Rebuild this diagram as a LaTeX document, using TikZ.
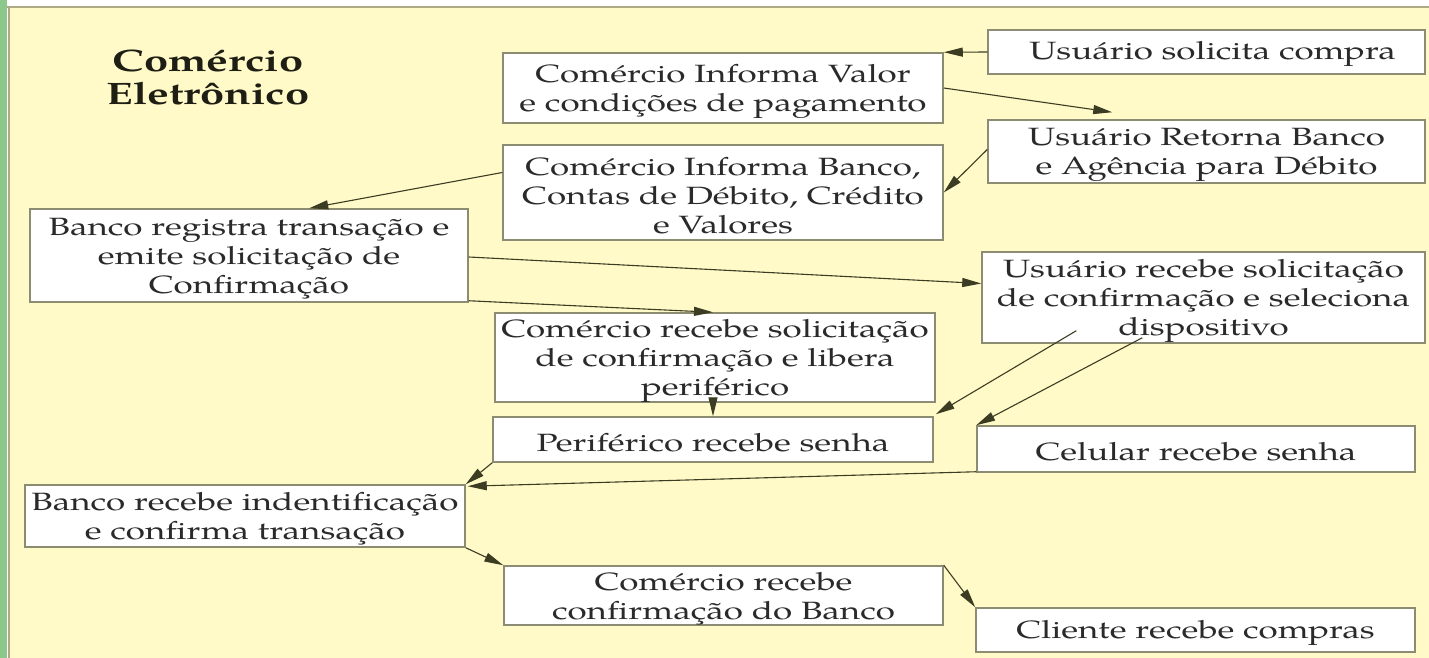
\documentclass[tikz,border=0pt]{standalone}
\usepackage{fontspec}
\setmainfont{texgyrepagella}[Extension=.otf, UprightFont=*-regular, BoldFont=*-bold, ItalicFont=*-italic, BoldItalicFont=*-bolditalic, FakeStretch=1.4]
\usetikzlibrary{arrows.meta,calc}
\definecolor{bgyel}{RGB}{255,250,200}
\definecolor{greenstrip}{RGB}{140,200,140}
\definecolor{frameline}{RGB}{175,170,135}
\definecolor{boxline}{RGB}{140,140,115}
\definecolor{txtcol}{RGB}{42,42,42}
\definecolor{titlecol}{RGB}{30,30,20}
\definecolor{arrcol}{RGB}{60,60,35}
\begin{document}
\begin{tikzpicture}[x=1pt,y=-1pt,
  bx/.style={draw=boxline, fill=white, line width=1.5pt, inner sep=0pt},
  tx/.style={inner sep=0pt, align=center, text=txtcol, font=\fontsize{25}{29}\selectfont},
  arr/.style={draw=arrcol, line width=1.1pt, -{Triangle[length=19pt,width=9pt]}}]
\useasboundingbox (0,0) rectangle (1429,658);
\fill[white] (0,0) rectangle (1429,658);
\fill[bgyel] (9,7) rectangle (1429,658);
\fill[greenstrip] (0,0) rectangle (7,658);
\draw[frameline, line width=1.2pt] (7,7) -- (1429,7);
\draw[frameline, line width=1.2pt] (9,7) -- (9,658);

\node[font=\bfseries\fontsize{31}{33}\selectfont, text=titlecol, align=center] (title) at (208,77) {Comércio\\Eletrônico};

\node[bx, minimum width=437pt, minimum height=44pt] (usol) at (1206.5,52) {};
\node[bx, minimum width=440pt, minimum height=70pt] (cval) at (723,88) {};
\node[bx, minimum width=437pt, minimum height=63pt] (uret) at (1206.5,151.5) {};
\node[bx, minimum width=440pt, minimum height=95pt] (cbanco) at (723,192.5) {};
\node[bx, minimum width=438pt, minimum height=93pt] (breg) at (249,255.5) {};
\node[bx, minimum width=443pt, minimum height=91pt] (urec) at (1203.5,297.5) {};
\node[bx, minimum width=440pt, minimum height=89pt] (crec) at (715,357.5) {};
\node[bx, minimum width=440pt, minimum height=45pt] (per) at (713,439.5) {};
\node[bx, minimum width=438pt, minimum height=46pt] (cel) at (1196,449) {};
\node[bx, minimum width=440pt, minimum height=62pt] (bconf) at (245,516) {};
\node[bx, minimum width=439pt, minimum height=59pt] (cconf) at (723.5,595.5) {};
\node[bx, minimum width=439pt, minimum height=44pt] (cli) at (1195.5,630) {};

\node[tx] (usolT) at ($(usol)+(6,2)$) {Usuário solicita compra};
\node[tx] (cvalT) at ($(cval)+(0,3)$) {Comércio Informa Valor\\e condições de pagamento};
\node[tx] (uretT) at ($(uret)+(0,3)$) {Usuário Retorna Banco\\e Agência para Débito};
\node[tx] (cbancoT) at ($(cbanco)+(0,3)$) {Comércio Informa Banco,\\Contas de Débito, Crédito\\e Valores};
\node[tx] (bregT) at ($(breg)+(0,3)$) {Banco registra transação e\\emite solicitação de\\Confirmação};
\node[tx] (urecT) at ($(urec)+(0,3)$) {Usuário recebe solicitação\\de confirmação e seleciona\\dispositivo};
\node[tx] (crecT) at ($(crec)+(0,3)$) {Comércio recebe solicitação\\de confirmação e libera\\periférico};
\node[tx] (perT) at ($(per)+(0,3)$) {Periférico recebe senha};
\node[tx] (celT) at ($(cel)+(0,3)$) {Celular recebe senha};
\node[tx] (bconfT) at ($(bconf)+(0,3)$) {Banco recebe indentificação\\e confirma transação};
\node[tx] (cconfT) at ($(cconf)+(0,3)$) {Comércio recebe\\confirmação do Banco};
\node[tx] (cliT) at ($(cli)+(0,3)$) {Cliente recebe compras};

\draw[arr] (usol.west) -- (cval.north east);
\draw[arr] (cval.east) -- ($(uret.north west)+(125,-7)$);
\draw[arr] ($(uret.west)+(0,-2)$) -- (cbanco.east);
\draw[arr] ($(cbanco.west)+(0,-20)$) -- ($(breg.north west)+(280,0)$);
\draw[arr] ($(breg.east)+(0,1.5)$) -- ($(urec.west)+(0,-14)$);
\draw[arr] ($(breg.south east)+(0,-2)$) -- ($(crec.north)+(-2,0)$);
\draw[arr] (crec.south -| per.north) -- (per.north);
\draw[arr] ($(urec.south west)+(95,-13)$) -- ($(per.north east)+(2,-2)$);
\draw[arr] ($(urec.south west)+(161,-6)$) -- (cel.north west);
\draw[arr] (per.south west) -- (bconf.north east);
\draw[arr] ($(cel.south west)+(0,-1)$) -- ($(bconf.north east)+(2,2)$);
\draw[arr] (bconf.south east) -- (cconf.north west);
\draw[arr] (cconf.north east) -- (cli.north west);
\end{tikzpicture}
\end{document}
